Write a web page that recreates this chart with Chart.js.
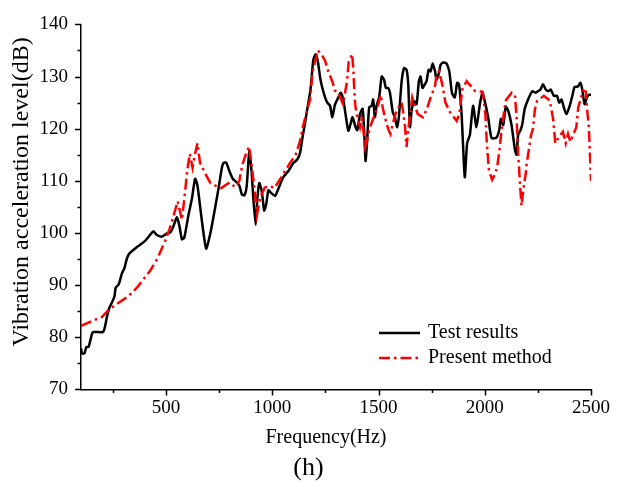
<!DOCTYPE html>
<html>
<head>
<meta charset="utf-8">
<script src="https://cdn.jsdelivr.net/npm/chart.js@4.4.1/dist/chart.umd.min.js"></script>
<style>
  html, body { margin: 0; padding: 0; background: #fff; }
  canvas { display: block; }
</style>
</head>
<body>
<canvas id="chart" width="622" height="487"></canvas>
<script>
// === data ===
const testFreq = [100, 105, 116, 125, 136, 152, 159, 203, 211, 222, 234, 246, 258, 263, 277, 293, 304, 316, 328, 363,
  402, 441, 457, 480, 504, 520, 535, 551, 562, 575, 586, 606, 622, 637, 648, 669, 689, 708, 731, 747,
  763, 770, 783, 798, 814, 833, 845, 857, 869, 880, 892, 903, 911, 922, 930, 939, 951, 962, 971, 982,
  994, 1013, 1029, 1052, 1076, 1099, 1118, 1131, 1143, 1154, 1165, 1180, 1193, 1204, 1215, 1227, 1244, 1259, 1272, 1283,
  1295, 1311, 1322, 1334, 1347, 1358, 1369, 1378, 1389, 1400, 1413, 1425, 1433, 1439, 1447, 1456, 1468, 1475, 1483, 1491,
  1503, 1515, 1526, 1535, 1546, 1554, 1567, 1577, 1588, 1597, 1609, 1620, 1632, 1640, 1648, 1656, 1667, 1679, 1690, 1698,
  1707, 1718, 1726, 1736, 1745, 1755, 1766, 1773, 1784, 1792, 1804, 1820, 1833, 1846, 1859, 1870, 1879, 1891, 1906, 1917,
  1930, 1945, 1961, 1977, 1989, 2000, 2016, 2032, 2055, 2068, 2076, 2087, 2099, 2110, 2126, 2142, 2150, 2157, 2168, 2177,
  2188, 2204, 2224, 2240, 2251, 2262, 2274, 2287, 2300, 2311, 2325, 2340, 2350, 2361, 2372, 2384, 2400, 2412, 2423, 2439,
  2450, 2459, 2470, 2481, 2490, 2500];
const testLevel = [77.9, 76.9, 76.9, 78.1, 78.2, 80.7, 81.0, 81.0, 81.7, 83.9, 85.7, 86.7, 87.9, 89.5, 90.1, 92.3, 93.2, 95.1, 96.1, 97.3,
  98.5, 100.3, 99.6, 99.3, 99.9, 100.1, 101.3, 103.0, 101.6, 98.8, 99.1, 103.5, 106.6, 110.4, 109.1, 102.3, 97.0, 99.8, 104.8, 108.5,
  112.5, 113.4, 113.5, 111.9, 110.4, 109.7, 109.1, 107.4, 107.2, 109.1, 115.7, 111.6, 106.6, 101.6, 106.6, 109.6, 107.9, 104.3, 105.4, 108.2,
  107.7, 107.1, 108.5, 110.7, 111.9, 113.4, 114.1, 115.4, 118.5, 121.0, 123.8, 127.5, 133.1, 134.3, 132.8, 129.4, 126.6, 125.0, 124.4, 122.2,
  124.6, 126.0, 126.9, 125.6, 122.2, 119.6, 121.0, 122.2, 120.7, 119.7, 122.8, 123.8, 119.1, 113.8, 117.9, 124.1, 124.4, 125.6, 122.2, 124.4,
  126.0, 130.0, 129.4, 127.8, 127.8, 126.9, 123.2, 122.2, 120.3, 122.8, 129.1, 131.6, 131.3, 128.5, 120.3, 123.5, 125.3, 124.7, 129.1, 130.0,
  127.8, 128.5, 129.1, 131.3, 131.0, 132.5, 131.0, 129.4, 130.6, 132.2, 132.7, 132.5, 131.0, 126.8, 126.0, 128.8, 128.5, 122.8, 110.7, 117.2,
  118.8, 124.4, 120.3, 124.7, 126.9, 125.3, 122.2, 118.2, 118.3, 119.7, 121.9, 120.7, 124.2, 123.5, 120.7, 116.0, 115.0, 118.8, 119.7, 120.9,
  123.8, 125.6, 127.2, 126.9, 127.2, 127.5, 128.5, 127.5, 127.2, 127.5, 126.3, 126.3, 125.0, 125.6, 124.1, 122.8, 124.4, 126.3, 128.0, 128.1,
  128.8, 127.5, 124.7, 126.0, 126.5, 126.5];

const methodFreq = [100, 199, 234, 324, 363, 426, 460, 496, 516, 530, 555, 575, 590, 600, 612, 625, 636, 648, 660, 690,
  710, 760, 800, 825, 845, 860, 875, 891, 903, 918, 928, 945, 965, 990, 1010, 1040, 1080, 1110, 1130, 1145,
  1178, 1190, 1215, 1235, 1248, 1262, 1285, 1295, 1310, 1333, 1352, 1360, 1376, 1382, 1386, 1390, 1397, 1405, 1413, 1420,
  1428, 1437, 1447, 1460, 1475, 1495, 1510, 1520, 1530, 1545, 1556, 1579, 1602, 1609, 1616, 1625, 1632, 1640, 1659, 1671,
  1685, 1709, 1728, 1742, 1766, 1772, 1785, 1800, 1815, 1836, 1868, 1880, 1895, 1915, 1955, 1990, 2003, 2010, 2020, 2035,
  2045, 2058, 2068, 2080, 2090, 2100, 2127, 2142, 2150, 2156, 2165, 2173, 2183, 2193, 2197, 2204, 2218, 2227, 2236, 2246,
  2278, 2306, 2314, 2322, 2332, 2350, 2368, 2381, 2392, 2403, 2431, 2440, 2463, 2476, 2481, 2490, 2500];
const methodLevel = [82.2, 83.9, 85.4, 87.9, 89.5, 92.8, 95.1, 98.5, 100.7, 102.5, 106.1, 102.5, 108, 112, 115.2, 112.5, 115, 117.2, 113.5, 111,
  109.5, 108.6, 109.7, 108.8, 110.0, 113.2, 115, 116.6, 113, 108, 103.5, 107, 108.7, 109, 108.6, 110.5, 113.2, 115, 117.5, 120.5,
  125.6, 131, 135, 134, 133.1, 131.2, 128.8, 127.3, 126.9, 124.7, 129.1, 132.9, 134.3, 131, 127.5, 124.7, 122.8, 121.6, 120.3, 121.9,
  120, 116.5, 118, 120.3, 121.9, 124, 126.5, 124, 122.2, 120, 119, 122.8, 124.7, 125, 123.2, 120.3, 116.5, 119.8, 126, 124.4,
  122.8, 122.2, 123.8, 125.6, 128.2, 130, 131, 128.5, 125, 123.2, 121.5, 122.8, 127.6, 129.1, 127.2, 127.1, 122.8, 117, 112, 110.2,
  111, 112.5, 115.5, 120, 123, 125.5, 126.9, 126.5, 122, 116, 110, 105.2, 108.8, 111.4, 113.2, 115, 118.8, 120, 123.7, 125.3,
  126.3, 125.4, 123.6, 121.8, 117.2, 118.5, 119.4, 117.2, 119, 117.5, 120.3, 124.1, 127.3, 127.1, 124, 120.3, 110];

const xMajorTicks = [500, 1000, 1500, 2000, 2500];
const xMinorTicks = [250, 750, 1250, 1750, 2250];
const yMajorTicks = [70, 80, 90, 100, 110, 120, 130, 140];
const yMinorTicks = [75, 85, 95, 105, 115, 125, 135];

const serif = '"Liberation Serif", "Times New Roman", serif';

// tick marks: long ones for the labelled values, short ones in between
const tickMarks = {
  id: 'tickMarks',
  afterDraw(chart) {
    const { ctx, scales: { x, y } } = chart;
    ctx.save();
    ctx.strokeStyle = '#000';
    ctx.lineWidth = 1.5;
    ctx.beginPath();
    xMajorTicks.concat(xMinorTicks).forEach(v => {
      const px = Math.round(x.getPixelForValue(v)) + 0.5;
      const len = xMajorTicks.includes(v) ? 6 : 3.5;
      ctx.moveTo(px, x.top);
      ctx.lineTo(px, x.top + len);
    });
    yMajorTicks.concat(yMinorTicks).forEach(v => {
      const py = Math.round(y.getPixelForValue(v)) + 0.5;
      const len = yMajorTicks.includes(v) ? 6 : 3.5;
      ctx.moveTo(y.right, py);
      ctx.lineTo(y.right - len, py);
    });
    ctx.stroke();
    ctx.restore();
  }
};

// legend in the lower right of the plot
const sideLegend = {
  id: 'sideLegend',
  afterDraw(chart) {
    const { ctx } = chart;
    ctx.save();
    ctx.font = '20px ' + serif;
    ctx.textBaseline = 'middle';
    ctx.fillStyle = '#000';
    chart.data.datasets.forEach((ds, i) => {
      const yy = 333 + i * 25;
      ctx.strokeStyle = ds.borderColor;
      ctx.lineWidth = ds.borderWidth;
      ctx.setLineDash(ds.borderDash || []);
      ctx.beginPath();
      ctx.moveTo(379, yy);
      ctx.lineTo(420, yy);
      ctx.stroke();
      ctx.fillText(ds.label, 428, yy);
    });
    ctx.restore();
  }
};

new Chart(document.getElementById('chart'), {
  type: 'line',
  data: {
    datasets: [
      {
        label: 'Test results',
        data: testFreq.map((f, i) => ({ x: f, y: testLevel[i] })),
        borderColor: '#000000',
        borderWidth: 2.5,
        pointRadius: 0,
        tension: 0.2,
        order: 2
      },
      {
        label: 'Present method',
        data: methodFreq.map((f, i) => ({ x: f, y: methodLevel[i] })),
        borderColor: '#ff0000',
        borderWidth: 2.5,
        borderDash: [11, 4, 2.5, 4],
        pointRadius: 0,
        tension: 0,
        order: 1
      }
    ]
  },
  options: {
    responsive: false,
    devicePixelRatio: 1,
    animation: false,
    layout: { padding: { top: 15, right: 31, left: 0, bottom: 0 } },
    plugins: {
      legend: { display: false },
      tooltip: { enabled: false },
      subtitle: {
        display: true,
        position: 'bottom',
        text: '    (h)',
        color: '#000',
        font: { family: serif, size: 26, weight: 'normal' },
        padding: { top: 0, bottom: 3 }
      }
    },
    scales: {
      x: {
        type: 'linear',
        min: 100,
        max: 2500,
        afterBuildTicks: scale => { scale.ticks = xMajorTicks.map(v => ({ value: v })); },
        afterFit: scale => { scale.height = 63.4; },
        grid: { display: false, drawTicks: false },
        border: { display: true, color: '#000', width: 1.5 },
        ticks: {
          color: '#000',
          padding: 7,
          maxRotation: 0,
          font: { family: serif, size: 19 },
          callback: v => String(v)
        },
        title: {
          display: true,
          text: 'Frequency(Hz)    ',
          color: '#000',
          font: { family: serif, size: 20 },
          padding: { top: 0, bottom: 3 }
        }
      },
      y: {
        min: 70,
        max: 140,
        afterBuildTicks: scale => { scale.ticks = yMajorTicks.map(v => ({ value: v })); },
        afterFit: scale => { scale.width = 81; },
        grid: { display: false, drawTicks: false },
        border: { display: true, color: '#000', width: 1.5 },
        ticks: {
          color: '#000',
          padding: 13,
          font: { family: serif, size: 19 },
          callback: v => String(v)
        },
        title: {
          display: true,
          text: '     Vibration acceleration level(dB)',
          color: '#000',
          font: { family: serif, size: 24 },
          padding: { top: 7, bottom: 0 }
        }
      }
    }
  },
  plugins: [tickMarks, sideLegend]
});
</script>
</body>
</html>
